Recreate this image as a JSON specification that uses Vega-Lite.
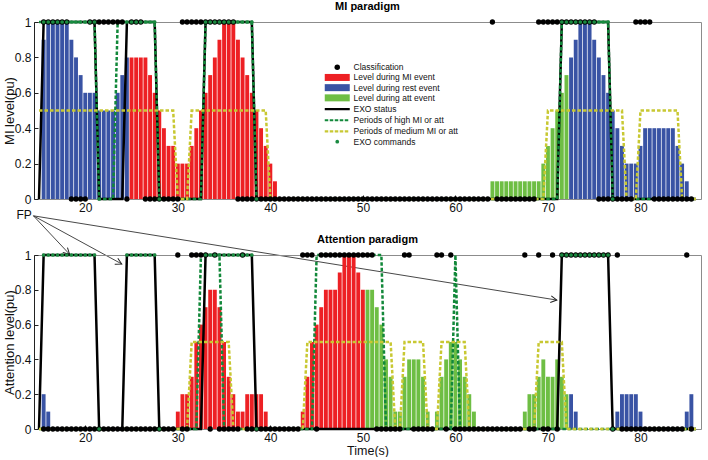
{
  "$schema": "https://vega.github.io/schema/vega-lite/v6.json",
  "padding": {"left": 2, "top": 0, "right": 4, "bottom": 0},
  "bounds": "flush",
  "spacing": 56,
  "background": "white",
  "config": {
    "view": {"stroke": "#8c8c8c", "strokeWidth": 1},
    "font": "Liberation Sans",
    "axis": {"labelFont": "Liberation Sans", "labelFontSize": 12, "labelColor": "#111", "labelOverlap": false, "titleFont": "Liberation Sans", "titleFontSize": 13, "titleFontWeight": "normal", "titleColor": "#111", "grid": false, "tickColor": "#222", "domainColor": "#222"},
    "title": {"font": "Liberation Sans", "fontSize": 11, "fontWeight": "bold", "color": "#000"}
  },
  "datasets": {
    "s": [
      {"p":"M","t":15.5,"lv":0.9,"ev":"r","c":1,"k":1},{"p":"M","t":16,"lv":1,"ev":"r","c":1,"k":1},{"p":"M","t":16.5,"lv":1,"ev":"r","c":1,"k":1},{"p":"M","t":17,"lv":1,"ev":"r","c":1,"k":1},{"p":"M","t":17.5,"lv":1,"ev":"r","c":1,"k":1},{"p":"M","t":18,"lv":1,"ev":"r","c":1,"k":1},{"p":"M","t":18.5,"lv":0.9,"ev":"r","c":0,"k":1},{"p":"M","t":19,"lv":0.8,"ev":"r","c":0,"k":1},{"p":"M","t":19.5,"lv":0.7,"ev":"r","c":0,"k":1},{"p":"M","t":20,"lv":0.6,"ev":"r","c":0,"k":1},{"p":"M","t":20.5,"lv":0.6,"ev":"r","c":1,"k":1},{"p":"M","t":21,"lv":0.6,"ev":"r","c":1,"k":1},{"p":"M","t":21.5,"lv":0.5,"ev":"r","c":1,"k":0},{"p":"M","t":22,"lv":0.5,"ev":"r","c":1},{"p":"M","t":22.5,"lv":0.5,"ev":"r","c":1},{"p":"M","t":23,"lv":0.5,"ev":"r","c":1},{"p":"M","t":23.5,"lv":0.6,"ev":"r","c":1},{"p":"M","t":24,"lv":0.7,"ev":"r","c":1},{"p":"M","t":24.5,"lv":0.8,"ev":"r","c":0,"k":1},
      {"p":"M","t":25,"lv":0.8,"ev":"m","c":1,"k":1},{"p":"M","t":25.5,"lv":0.8,"ev":"m","c":1,"k":1},{"p":"M","t":26,"lv":0.8,"ev":"m","c":1,"k":1},{"p":"M","t":26.5,"lv":0.8,"ev":"m","c":0,"k":1},{"p":"M","t":27,"lv":0.7,"ev":"m","c":0,"k":1},{"p":"M","t":27.5,"lv":0.6,"ev":"m","c":0,"k":1},{"p":"M","t":28,"lv":0.5,"ev":"m","c":0,"k":0},{"p":"M","t":28.5,"lv":0.4,"ev":"m","c":0},{"p":"M","t":29,"lv":0.3,"ev":"m","c":0},{"p":"M","t":29.5,"lv":0.3,"ev":"m","c":0},{"p":"M","t":30,"lv":0.2,"ev":"m","c":0},{"p":"M","t":30.5,"lv":0.2,"ev":"m","c":1},{"p":"M","t":31,"lv":0.2,"ev":"m","c":1},{"p":"M","t":31.5,"lv":0.3,"ev":"m","c":1},{"p":"M","t":32,"lv":0.4,"ev":"m","c":1},{"p":"M","t":32.5,"lv":0.5,"ev":"m","c":1},{"p":"M","t":33,"lv":0.6,"ev":"m","c":1,"k":1},{"p":"M","t":33.5,"lv":0.7,"ev":"m","c":1,"k":1},{"p":"M","t":34,"lv":0.8,"ev":"m","c":1,"k":1},{"p":"M","t":34.5,"lv":0.9,"ev":"m","c":1,"k":1},{"p":"M","t":35,"lv":1,"ev":"m","c":1,"k":1},{"p":"M","t":35.5,"lv":1,"ev":"m","c":1,"k":1},{"p":"M","t":36,"lv":1,"ev":"m","c":1,"k":1},{"p":"M","t":36.5,"lv":0.9,"ev":"m","c":0,"k":1},{"p":"M","t":37,"lv":0.8,"ev":"m","c":0,"k":1},{"p":"M","t":37.5,"lv":0.7,"ev":"m","c":0,"k":1},{"p":"M","t":38,"lv":0.6,"ev":"m","c":0,"k":1},{"p":"M","t":38.5,"lv":0.5,"ev":"m","c":0,"k":0},{"p":"M","t":39,"lv":0.4,"ev":"m","c":0},{"p":"M","t":39.5,"lv":0.3,"ev":"m","c":0},{"p":"M","t":40,"lv":0.2,"ev":"m","c":0},{"p":"M","t":40.5,"lv":0.1,"ev":"m","c":0},
      {"p":"M","t":41,"c":0},{"p":"M","t":41.5,"c":0},{"p":"M","t":42,"c":0},{"p":"M","t":42.5,"c":0},{"p":"M","t":43,"c":0},{"p":"M","t":43.5,"c":0},{"p":"M","t":44,"c":0},{"p":"M","t":44.5,"c":0},{"p":"M","t":45,"c":0},{"p":"M","t":45.5,"c":0},{"p":"M","t":46,"c":0},{"p":"M","t":46.5,"c":0},{"p":"M","t":47,"c":0},{"p":"M","t":47.5,"c":0},{"p":"M","t":48,"c":0},{"p":"M","t":48.5,"c":0},{"p":"M","t":49,"c":0},{"p":"M","t":49.5,"c":0},{"p":"M","t":50,"c":0},{"p":"M","t":50.5,"c":0},{"p":"M","t":51,"c":0},{"p":"M","t":51.5,"c":0},{"p":"M","t":52,"c":0},{"p":"M","t":52.5,"c":0},{"p":"M","t":53,"c":0},{"p":"M","t":53.5,"c":0},{"p":"M","t":54,"c":0},{"p":"M","t":54.5,"c":0},{"p":"M","t":55,"c":0},{"p":"M","t":55.5,"c":0},{"p":"M","t":56,"c":0},{"p":"M","t":56.5,"c":0},{"p":"M","t":57,"c":0},{"p":"M","t":57.5,"c":0},{"p":"M","t":58,"c":0},{"p":"M","t":58.5,"c":0},{"p":"M","t":59,"c":0},{"p":"M","t":59.5,"c":0},{"p":"M","t":60,"c":0},{"p":"M","t":60.5,"c":0},{"p":"M","t":61,"c":0},{"p":"M","t":61.5,"c":0},{"p":"M","t":62,"c":0},{"p":"M","t":62.5,"c":0},{"p":"M","t":63,"c":0},{"p":"M","t":63.5,"c":0},
      {"p":"M","t":64,"lv":0.1,"ev":"a","c":1},{"p":"M","t":64.5,"lv":0.1,"ev":"a","c":0},{"p":"M","t":65,"lv":0.1,"ev":"a","c":0},{"p":"M","t":65.5,"lv":0.1,"ev":"a","c":0},{"p":"M","t":66,"lv":0.1,"ev":"a","c":0},{"p":"M","t":66.5,"lv":0.1,"ev":"a","c":0},{"p":"M","t":67,"lv":0.1,"ev":"a","c":0},{"p":"M","t":67.5,"lv":0.1,"ev":"a","c":0},{"p":"M","t":68,"lv":0.1,"ev":"a","c":0},{"p":"M","t":68.5,"lv":0.1,"ev":"a","c":0},{"p":"M","t":69,"lv":0.1,"ev":"a","c":1},{"p":"M","t":69.5,"lv":0.2,"ev":"a","c":1},{"p":"M","t":70,"lv":0.3,"ev":"a","c":1},{"p":"M","t":70.5,"lv":0.4,"ev":"a","c":1},{"p":"M","t":71,"lv":0.5,"ev":"a","c":1},{"p":"M","t":71.5,"lv":0.6,"ev":"a","c":1,"k":1},{"p":"M","t":72,"lv":0.7,"ev":"a","c":1,"k":1},
      {"p":"M","t":72.5,"lv":0.8,"ev":"r","c":1,"k":1},{"p":"M","t":73,"lv":0.9,"ev":"r","c":1,"k":1},{"p":"M","t":73.5,"lv":1,"ev":"r","c":1,"k":1},{"p":"M","t":74,"lv":1,"ev":"r","c":1,"k":1},{"p":"M","t":74.5,"lv":1,"ev":"r","c":1,"k":1},{"p":"M","t":75,"lv":0.9,"ev":"r","c":1,"k":1},{"p":"M","t":75.5,"lv":0.8,"ev":"r","c":0,"k":1},{"p":"M","t":76,"lv":0.7,"ev":"r","c":0,"k":1},{"p":"M","t":76.5,"lv":0.6,"ev":"r","c":0,"k":1},{"p":"M","t":77,"lv":0.5,"ev":"r","c":0,"k":0},{"p":"M","t":77.5,"lv":0.4,"ev":"r","c":0},{"p":"M","t":78,"lv":0.3,"ev":"r","c":0},{"p":"M","t":78.5,"lv":0.2,"ev":"r","c":0},{"p":"M","t":79,"lv":0.2,"ev":"r","c":0},{"p":"M","t":79.5,"lv":0.2,"ev":"r","c":1},{"p":"M","t":80,"lv":0.3,"ev":"r","c":1},{"p":"M","t":80.5,"lv":0.4,"ev":"r","c":1},{"p":"M","t":81,"lv":0.4,"ev":"r","c":1},{"p":"M","t":81.5,"lv":0.4,"ev":"r","c":0},{"p":"M","t":82,"lv":0.4,"ev":"r","c":0},{"p":"M","t":82.5,"lv":0.4,"ev":"r","c":0},{"p":"M","t":83,"lv":0.4,"ev":"r","c":0},{"p":"M","t":83.5,"lv":0.4,"ev":"r","c":0},{"p":"M","t":84,"lv":0.3,"ev":"r","c":0},{"p":"M","t":84.5,"lv":0.2,"ev":"r","c":0},{"p":"M","t":85,"lv":0.1,"ev":"r","c":0},{"p":"M","t":85.5,"c":0},

      {"p":"A","t":15.5,"lv":0.2,"ev":"r","c":0,"k":1},{"p":"A","t":16,"lv":0.1,"ev":"r","c":0,"k":1},{"p":"A","t":16.5,"c":0,"k":1},{"p":"A","t":17,"c":0,"k":1},{"p":"A","t":17.5,"c":0,"k":1},{"p":"A","t":18,"c":0,"k":1},{"p":"A","t":18.5,"c":0,"k":1},{"p":"A","t":19,"c":0,"k":1},{"p":"A","t":19.5,"c":0,"k":1},{"p":"A","t":20,"c":0,"k":1},{"p":"A","t":20.5,"c":0,"k":1},{"p":"A","t":21,"c":0,"k":1},{"p":"A","t":21.5,"c":0,"k":0},{"p":"A","t":22,"c":0},{"p":"A","t":22.5,"c":0},{"p":"A","t":23,"c":0},{"p":"A","t":23.5,"c":0},{"p":"A","t":24,"c":0},{"p":"A","t":24.5,"c":0,"k":1},{"p":"A","t":25,"c":0,"k":1},{"p":"A","t":25.5,"c":0,"k":1},{"p":"A","t":26,"c":0,"k":1},{"p":"A","t":26.5,"c":0,"k":1},{"p":"A","t":27,"c":0,"k":1},{"p":"A","t":27.5,"c":0,"k":1},{"p":"A","t":28,"c":0,"k":0},{"p":"A","t":28.5,"c":0},{"p":"A","t":29,"c":0},{"p":"A","t":29.5,"c":0},
      {"p":"A","t":30,"lv":0.1,"ev":"m","c":1},{"p":"A","t":30.5,"lv":0.2,"ev":"m","c":0},{"p":"A","t":31,"lv":0.2,"ev":"m","c":0},{"p":"A","t":31.5,"lv":0.3,"ev":"m","c":1},{"p":"A","t":32,"lv":0.5,"ev":"m","c":1},{"p":"A","t":32.5,"lv":0.6,"ev":"m","c":1},{"p":"A","t":33,"lv":0.7,"ev":"m","c":1,"k":1},{"p":"A","t":33.5,"lv":0.8,"ev":"m","c":0,"k":1},{"p":"A","t":34,"lv":0.8,"ev":"m","c":1,"k":1},{"p":"A","t":34.5,"lv":0.7,"ev":"m","c":0,"k":1},{"p":"A","t":35,"lv":0.5,"ev":"m","c":0,"k":1},{"p":"A","t":35.5,"lv":0.3,"ev":"m","c":0,"k":1},{"p":"A","t":36,"lv":0.2,"ev":"m","c":0,"k":1},{"p":"A","t":36.5,"lv":0.1,"ev":"m","c":0,"k":1},{"p":"A","t":37,"lv":0.1,"ev":"m","c":1,"k":1},{"p":"A","t":37.5,"lv":0.2,"ev":"m","c":0,"k":1},{"p":"A","t":38,"lv":0.2,"ev":"m","c":0,"k":1},{"p":"A","t":38.5,"lv":0.2,"ev":"m","c":0,"k":0},{"p":"A","t":39,"lv":0.2,"ev":"m","c":0},{"p":"A","t":39.5,"lv":0.1,"ev":"m","c":0},
      {"p":"A","t":40,"c":0},{"p":"A","t":40.5,"c":0},{"p":"A","t":41,"c":0},{"p":"A","t":41.5,"c":0},{"p":"A","t":42,"c":0},{"p":"A","t":42.5,"c":0},{"p":"A","t":43,"c":0},
      {"p":"A","t":43.5,"lv":0.1,"ev":"m","c":1},{"p":"A","t":44,"lv":0.3,"ev":"m","c":1},{"p":"A","t":44.5,"lv":0.5,"ev":"m","c":1},{"p":"A","t":45,"lv":0.6,"ev":"m","c":0},{"p":"A","t":45.5,"lv":0.7,"ev":"m","c":1},{"p":"A","t":46,"lv":0.8,"ev":"m","c":1},{"p":"A","t":46.5,"lv":0.8,"ev":"m","c":1},{"p":"A","t":47,"lv":0.8,"ev":"m","c":1},{"p":"A","t":47.5,"lv":0.9,"ev":"m","c":1},{"p":"A","t":48,"lv":1,"ev":"m","c":1},{"p":"A","t":48.5,"lv":1,"ev":"m","c":1},{"p":"A","t":49,"lv":1,"ev":"m","c":1},{"p":"A","t":49.5,"lv":0.9,"ev":"m","c":1},{"p":"A","t":50,"lv":0.8,"ev":"m","c":1},
      {"p":"A","t":50.5,"lv":0.8,"ev":"a","c":1},{"p":"A","t":51,"lv":0.8,"ev":"a","c":1},{"p":"A","t":51.5,"lv":0.7,"ev":"a","c":0},{"p":"A","t":52,"lv":0.6,"ev":"a","c":0},{"p":"A","t":52.5,"lv":0.4,"ev":"a","c":0},{"p":"A","t":53,"lv":0.3,"ev":"a","c":0},{"p":"A","t":53.5,"lv":0.1,"ev":"a","c":0},{"p":"A","t":54,"lv":0.1,"ev":"a","c":0},{"p":"A","t":54.5,"lv":0.3,"ev":"a","c":1},{"p":"A","t":55,"lv":0.4,"ev":"a","c":1},{"p":"A","t":55.5,"lv":0.4,"ev":"a","c":0},{"p":"A","t":56,"lv":0.4,"ev":"a","c":0},{"p":"A","t":56.5,"lv":0.3,"ev":"a","c":0},{"p":"A","t":57,"lv":0.1,"ev":"a","c":0},{"p":"A","t":57.5,"c":0},
      {"p":"A","t":58,"lv":0.1,"ev":"a","c":1},{"p":"A","t":58.5,"lv":0.3,"ev":"a","c":1},{"p":"A","t":59,"lv":0.4,"ev":"a","c":0},{"p":"A","t":59.5,"lv":0.5,"ev":"a","c":1},{"p":"A","t":60,"lv":0.5,"ev":"a","c":0},{"p":"A","t":60.5,"lv":0.4,"ev":"a","c":0},{"p":"A","t":61,"lv":0.3,"ev":"a","c":0},{"p":"A","t":61.5,"lv":0.2,"ev":"a","c":0},{"p":"A","t":62,"lv":0.1,"ev":"a","c":0},
      {"p":"A","t":62.5,"c":0},{"p":"A","t":63,"c":0},{"p":"A","t":63.5,"c":0},{"p":"A","t":64,"c":0},{"p":"A","t":64.5,"c":0},{"p":"A","t":65,"c":0},{"p":"A","t":65.5,"c":0},{"p":"A","t":66,"c":0},{"p":"A","t":66.5,"c":0},{"p":"A","t":67,"c":0},
      {"p":"A","t":67.5,"lv":0.1,"ev":"a","c":1},{"p":"A","t":68,"lv":0.2,"ev":"a","c":0},{"p":"A","t":68.5,"lv":0.2,"ev":"a","c":0},{"p":"A","t":69,"lv":0.3,"ev":"a","c":1},{"p":"A","t":69.5,"lv":0.4,"ev":"a","c":0},{"p":"A","t":70,"lv":0.3,"ev":"a","c":0},{"p":"A","t":70.5,"lv":0.3,"ev":"a","c":1},{"p":"A","t":71,"lv":0.4,"ev":"a","c":0},{"p":"A","t":71.5,"lv":0.3,"ev":"a","c":1,"k":1},{"p":"A","t":72,"lv":0.2,"ev":"a","c":1,"k":1},
      {"p":"A","t":72.5,"lv":0.2,"ev":"r","c":1,"k":1},{"p":"A","t":73,"lv":0.1,"ev":"r","c":1,"k":1},{"p":"A","t":73.5,"c":1,"k":1},{"p":"A","t":74,"c":1,"k":1},{"p":"A","t":74.5,"c":1,"k":1},{"p":"A","t":75,"c":1,"k":1},{"p":"A","t":75.5,"c":1,"k":1},{"p":"A","t":76,"c":1,"k":1},{"p":"A","t":76.5,"c":1,"k":1},{"p":"A","t":77,"c":0,"k":0},
      {"p":"A","t":77.5,"lv":0.1,"ev":"r","c":1},{"p":"A","t":78,"lv":0.2,"ev":"r","c":0},{"p":"A","t":78.5,"lv":0.2,"ev":"r","c":0},{"p":"A","t":79,"lv":0.2,"ev":"r","c":0},{"p":"A","t":79.5,"lv":0.2,"ev":"r","c":0},{"p":"A","t":80,"lv":0.1,"ev":"r","c":0},
      {"p":"A","t":80.5,"c":0},{"p":"A","t":81,"c":0},{"p":"A","t":81.5,"c":0},{"p":"A","t":82,"c":0},{"p":"A","t":82.5,"c":0},{"p":"A","t":83,"c":0},{"p":"A","t":83.5,"c":0},{"p":"A","t":84,"c":0},{"p":"A","t":84.5,"c":0},
      {"p":"A","t":85,"lv":0.1,"ev":"r","c":1},{"p":"A","t":85.5,"lv":0.2,"ev":"r","c":0}
    ],
    "ln": [
      {"p":"M","s":"exo","t":15,"v":0},{"p":"M","s":"exo","t":15.5,"v":1},{"p":"M","s":"exo","t":21,"v":1},{"p":"M","s":"exo","t":21.5,"v":0},{"p":"M","s":"exo","t":24,"v":0},{"p":"M","s":"exo","t":24.5,"v":1},{"p":"M","s":"exo","t":27.5,"v":1},{"p":"M","s":"exo","t":28,"v":0},{"p":"M","s":"exo","t":32.5,"v":0},{"p":"M","s":"exo","t":33,"v":1},{"p":"M","s":"exo","t":38,"v":1},{"p":"M","s":"exo","t":38.5,"v":0},{"p":"M","s":"exo","t":71,"v":0},{"p":"M","s":"exo","t":71.5,"v":1},{"p":"M","s":"exo","t":76.5,"v":1},{"p":"M","s":"exo","t":77,"v":0},{"p":"M","s":"exo","t":86,"v":0},
      {"p":"A","s":"exo","t":15,"v":0},{"p":"A","s":"exo","t":15.5,"v":1},{"p":"A","s":"exo","t":21,"v":1},{"p":"A","s":"exo","t":21.5,"v":0},{"p":"A","s":"exo","t":24,"v":0},{"p":"A","s":"exo","t":24.5,"v":1},{"p":"A","s":"exo","t":27.5,"v":1},{"p":"A","s":"exo","t":28,"v":0},{"p":"A","s":"exo","t":32.5,"v":0},{"p":"A","s":"exo","t":33,"v":1},{"p":"A","s":"exo","t":38,"v":1},{"p":"A","s":"exo","t":38.5,"v":0},{"p":"A","s":"exo","t":71,"v":0},{"p":"A","s":"exo","t":71.5,"v":1},{"p":"A","s":"exo","t":76.5,"v":1},{"p":"A","s":"exo","t":77,"v":0},{"p":"A","s":"exo","t":86,"v":0},
      {"p":"M","s":"high","t":15,"v":1},{"p":"M","s":"high","t":21,"v":1},{"p":"M","s":"high","t":21.5,"v":0},{"p":"M","s":"high","t":23,"v":0},{"p":"M","s":"high","t":23.5,"v":1},{"p":"M","s":"high","t":27.5,"v":1},{"p":"M","s":"high","t":28,"v":0},{"p":"M","s":"high","t":32.5,"v":0},{"p":"M","s":"high","t":33,"v":1},{"p":"M","s":"high","t":38,"v":1},{"p":"M","s":"high","t":38.5,"v":0},{"p":"M","s":"high","t":71,"v":0},{"p":"M","s":"high","t":71.5,"v":1},{"p":"M","s":"high","t":76.5,"v":1},{"p":"M","s":"high","t":77,"v":0},{"p":"M","s":"high","t":86,"v":0},
      {"p":"A","s":"high","t":15,"v":0},{"p":"A","s":"high","t":32,"v":0},{"p":"A","s":"high","t":32.5,"v":1},{"p":"A","s":"high","t":34.5,"v":1},{"p":"A","s":"high","t":35,"v":0},{"p":"A","s":"high","t":44.5,"v":0},{"p":"A","s":"high","t":45,"v":1},{"p":"A","s":"high","t":52,"v":1},{"p":"A","s":"high","t":52.5,"v":0},{"p":"A","s":"high","t":59.5,"v":0},{"p":"A","s":"high","t":60,"v":1},{"p":"A","s":"high","t":60.5,"v":0},{"p":"A","s":"high","t":86,"v":0},
      {"p":"M","s":"med","t":15,"v":0.5},{"p":"M","s":"med","t":29.5,"v":0.5},{"p":"M","s":"med","t":30,"v":0},{"p":"M","s":"med","t":31,"v":0},{"p":"M","s":"med","t":31.5,"v":0.5},{"p":"M","s":"med","t":39.5,"v":0.5},{"p":"M","s":"med","t":40,"v":0},{"p":"M","s":"med","t":69.5,"v":0},{"p":"M","s":"med","t":70,"v":0.5},{"p":"M","s":"med","t":78,"v":0.5},{"p":"M","s":"med","t":78.5,"v":0},{"p":"M","s":"med","t":79.5,"v":0},{"p":"M","s":"med","t":80,"v":0.5},{"p":"M","s":"med","t":84,"v":0.5},{"p":"M","s":"med","t":84.5,"v":0},{"p":"M","s":"med","t":86,"v":0},
      {"p":"A","s":"med","t":15,"v":0},{"p":"A","s":"med","t":31,"v":0},{"p":"A","s":"med","t":31.5,"v":0.5},{"p":"A","s":"med","t":35.5,"v":0.5},{"p":"A","s":"med","t":36,"v":0},{"p":"A","s":"med","t":43.5,"v":0},{"p":"A","s":"med","t":44,"v":0.5},{"p":"A","s":"med","t":53,"v":0.5},{"p":"A","s":"med","t":53.5,"v":0},{"p":"A","s":"med","t":54,"v":0},{"p":"A","s":"med","t":54.5,"v":0.5},{"p":"A","s":"med","t":56.5,"v":0.5},{"p":"A","s":"med","t":57,"v":0},{"p":"A","s":"med","t":58,"v":0},{"p":"A","s":"med","t":58.5,"v":0.5},{"p":"A","s":"med","t":61,"v":0.5},{"p":"A","s":"med","t":61.5,"v":0},{"p":"A","s":"med","t":68.5,"v":0},{"p":"A","s":"med","t":69,"v":0.5},{"p":"A","s":"med","t":71.5,"v":0.5},{"p":"A","s":"med","t":72,"v":0},{"p":"A","s":"med","t":86,"v":0}
    ],
    "fp": [{"t":13.4,"v":-0.09,"txt":"FP"}],
    "arr": [
      {"id":1,"t0":14.4,"v0":-0.095,"t1":18.3,"v1":-0.312},
      {"id":2,"t0":14.4,"v0":-0.095,"t1":23.94,"v1":-0.367},
      {"id":3,"t0":14.4,"v0":-0.095,"t1":70.96,"v1":-0.571}
    ]
  },
  "resolve": {"scale": {"color": "shared"}},
  "vconcat": [
    {
      "width": 667, "height": 177,
      "title": {"text": "MI paradigm", "offset": 4},
      "layer": [
        {
          "data": {"name": "s"},
          "transform": [{"filter": "datum.p=='M' && datum.lv>0"}],
          "mark": {"type": "bar", "width": 3.9},
          "encoding": {
            "x": {"field": "t", "type": "quantitative", "scale": {"domain": [15, 86], "nice": false, "zero": false}, "axis": {"values": [20,30,40,50,60,70,80], "tickCount": 20, "format": "~g", "title": null, "tickSize": -4, "labelPadding": 7, "domain": false, "labelOverlap": false}},
            "y": {"field": "lv", "type": "quantitative", "scale": {"domain": [0, 1], "nice": false}, "axis": {"values": [0,0.2,0.4,0.6,0.8,1], "tickCount": 11, "format": "~g", "title": "MI level(pu)", "tickSize": -4, "labelPadding": 7, "titlePadding": -2, "labelOverlap": false}},
            "color": {
              "field": "ev", "type": "nominal",
              "scale": {"domain": ["cls","m","r","a","exo","high","med","cmd"], "range": ["#000000","#ed2024","#3953a4","#6ebe44","#000000","#12883a","#c8c832","#1a8a40"]},
              "legend": {
                "orient": "none", "legendX": 299, "legendY": 41, "title": null, "direction": "vertical",
                "symbolSize": 64, "symbolStrokeWidth": 1.5, "labelFontSize": 8.5, "labelFont": "Liberation Sans", "labelColor": "#111", "labelOffset": 12, "rowPadding": 1.2, "padding": 0,
                "labelExpr": "datum.value=='cls'?'Classification':datum.value=='m'?'Level during MI event':datum.value=='r'?'Level during rest event':datum.value=='a'?'Level during att event':datum.value=='exo'?'EXO status':datum.value=='high'?'Periods of high MI or att':datum.value=='med'?'Periods of medium MI or att':'EXO commands'",
                "encode": {
                  "symbols": {
                    "update": {
                      "shape": {"signal": "indexof(['m','r','a'],datum.value)>=0?'M-1.25,-0.35H1.25V0.35H-1.25Z':indexof(['exo','high','med'],datum.value)>=0?'stroke':'circle'"},
                      "size": {"signal": "indexof(['m','r','a'],datum.value)>=0?400:indexof(['exo','high','med'],datum.value)>=0?625:datum.value=='cls'?30:14"},
                      "fill": {"signal": "indexof(['exo','high','med'],datum.value)>=0?'transparent':scale('color',datum.value)"},
                      "stroke": {"signal": "indexof(['exo','high','med'],datum.value)>=0?scale('color',datum.value):'transparent'"},
                      "strokeWidth": {"signal": "indexof(['exo','high','med'],datum.value)>=0?2.2:0"},
                      "strokeDash": {"signal": "datum.value=='high'||datum.value=='med'?[3.5,1.5]:[1,0]"},
                      "opacity": {"value": 1}
                    }
                  }
                }
              }
            }
          }
        },
        {
          "data": {"name": "ln"},
          "transform": [{"filter": "datum.p=='M' && datum.s=='exo'"}],
          "mark": {"type": "line", "strokeWidth": 2.5},
          "encoding": {"x": {"field": "t", "type": "quantitative"}, "y": {"field": "v", "type": "quantitative"}, "color": {"datum": "exo", "type": "nominal"}}
        },
        {
          "data": {"name": "ln"},
          "transform": [{"filter": "datum.p=='M' && datum.s=='high'"}],
          "mark": {"type": "line", "strokeWidth": 2.5, "strokeDash": [3.5, 2]},
          "encoding": {"x": {"field": "t", "type": "quantitative"}, "y": {"field": "v", "type": "quantitative"}, "color": {"datum": "high", "type": "nominal"}}
        },
        {
          "data": {"name": "ln"},
          "transform": [{"filter": "datum.p=='M' && datum.s=='med'"}],
          "mark": {"type": "line", "strokeWidth": 2.5, "strokeDash": [3.5, 2]},
          "encoding": {"x": {"field": "t", "type": "quantitative"}, "y": {"field": "v", "type": "quantitative"}, "color": {"datum": "med", "type": "nominal"}}
        },
        {
          "data": {"name": "s"},
          "transform": [{"filter": "datum.p=='M' && datum.c!=null"}],
          "mark": {"type": "point", "filled": true, "size": 28, "opacity": 1},
          "encoding": {"x": {"field": "t", "type": "quantitative"}, "y": {"field": "c", "type": "quantitative"}, "color": {"datum": "cls", "type": "nominal"}}
        },
        {
          "data": {"name": "s"},
          "transform": [{"filter": "datum.p=='M' && datum.k!=null"}],
          "mark": {"type": "point", "filled": true, "size": 14, "opacity": 1},
          "encoding": {"x": {"field": "t", "type": "quantitative"}, "y": {"field": "k", "type": "quantitative"}, "color": {"datum": "cmd", "type": "nominal"}}
        },
        {
          "data": {"name": "arr"},
          "mark": {"type": "rule", "strokeWidth": 0.9, "color": "#333333", "clip": false},
          "encoding": {"x": {"field": "t0", "type": "quantitative"}, "y": {"field": "v0", "type": "quantitative"}, "x2": {"field": "t1"}, "y2": {"field": "v1"}}
        },
        {
          "data": {"name": "arr"},
          "transform": [{"filter": "datum.id==1"}],
          "mark": {"type": "point", "shape": "M-1,-0.55L0,0L-1,0.55", "filled": false, "size": 150, "angle": 44, "strokeWidth": 1, "color": "#222222", "opacity": 1, "clip": false},
          "encoding": {"x": {"field": "t1", "type": "quantitative"}, "y": {"field": "v1", "type": "quantitative"}}
        },
        {
          "data": {"name": "arr"},
          "transform": [{"filter": "datum.id==2"}],
          "mark": {"type": "point", "shape": "M-1,-0.55L0,0L-1,0.55", "filled": false, "size": 150, "angle": 27, "strokeWidth": 1, "color": "#222222", "opacity": 1, "clip": false},
          "encoding": {"x": {"field": "t1", "type": "quantitative"}, "y": {"field": "v1", "type": "quantitative"}}
        },
        {
          "data": {"name": "arr"},
          "transform": [{"filter": "datum.id==3"}],
          "mark": {"type": "point", "shape": "M-1,-0.55L0,0L-1,0.55", "filled": false, "size": 150, "angle": 9, "strokeWidth": 1, "color": "#222222", "opacity": 1, "clip": false},
          "encoding": {"x": {"field": "t1", "type": "quantitative"}, "y": {"field": "v1", "type": "quantitative"}}
        },
        {
          "data": {"name": "fp"},
          "mark": {"type": "text", "fontSize": 12, "font": "Liberation Sans", "color": "#111111", "clip": false},
          "encoding": {"x": {"field": "t", "type": "quantitative"}, "y": {"field": "v", "type": "quantitative"}, "text": {"field": "txt"}}
        }
      ]
    },
    {
      "width": 667, "height": 174,
      "title": {"text": "Attention paradigm", "offset": 4},
      "layer": [
        {
          "data": {"name": "s"},
          "transform": [{"filter": "datum.p=='A' && datum.lv>0"}],
          "mark": {"type": "bar", "width": 3.9},
          "encoding": {
            "x": {"field": "t", "type": "quantitative", "scale": {"domain": [15, 86], "nice": false, "zero": false}, "axis": {"values": [20,30,40,50,60,70,80], "tickCount": 20, "format": "~g", "title": "Time(s)", "titleFontSize": 12.5, "tickSize": -4, "labelPadding": 7, "titlePadding": 1, "domain": false, "labelOverlap": false}},
            "y": {"field": "lv", "type": "quantitative", "scale": {"domain": [0, 1], "nice": false}, "axis": {"values": [0,0.2,0.4,0.6,0.8,1], "tickCount": 11, "format": "~g", "title": "Attention level(pu)", "tickSize": -4, "labelPadding": 7, "titlePadding": -2, "labelOverlap": false}},
            "color": {"field": "ev", "type": "nominal"}
          }
        },
        {
          "data": {"name": "ln"},
          "transform": [{"filter": "datum.p=='A' && datum.s=='exo'"}],
          "mark": {"type": "line", "strokeWidth": 2.5},
          "encoding": {"x": {"field": "t", "type": "quantitative"}, "y": {"field": "v", "type": "quantitative"}, "color": {"datum": "exo", "type": "nominal"}}
        },
        {
          "data": {"name": "ln"},
          "transform": [{"filter": "datum.p=='A' && datum.s=='high'"}],
          "mark": {"type": "line", "strokeWidth": 2.5, "strokeDash": [3.5, 2]},
          "encoding": {"x": {"field": "t", "type": "quantitative"}, "y": {"field": "v", "type": "quantitative"}, "color": {"datum": "high", "type": "nominal"}}
        },
        {
          "data": {"name": "ln"},
          "transform": [{"filter": "datum.p=='A' && datum.s=='med'"}],
          "mark": {"type": "line", "strokeWidth": 2.5, "strokeDash": [3.5, 2]},
          "encoding": {"x": {"field": "t", "type": "quantitative"}, "y": {"field": "v", "type": "quantitative"}, "color": {"datum": "med", "type": "nominal"}}
        },
        {
          "data": {"name": "s"},
          "transform": [{"filter": "datum.p=='A' && datum.c!=null"}],
          "mark": {"type": "point", "filled": true, "size": 28, "opacity": 1},
          "encoding": {"x": {"field": "t", "type": "quantitative"}, "y": {"field": "c", "type": "quantitative"}, "color": {"datum": "cls", "type": "nominal"}}
        },
        {
          "data": {"name": "s"},
          "transform": [{"filter": "datum.p=='A' && datum.k!=null"}],
          "mark": {"type": "point", "filled": true, "size": 14, "opacity": 1},
          "encoding": {"x": {"field": "t", "type": "quantitative"}, "y": {"field": "k", "type": "quantitative"}, "color": {"datum": "cmd", "type": "nominal"}}
        }
      ]
    }
  ]
}
